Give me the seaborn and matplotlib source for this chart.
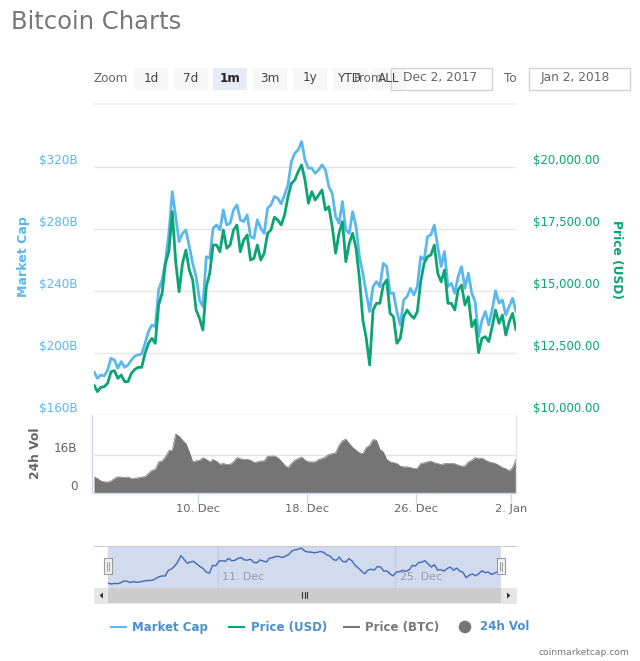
import matplotlib
matplotlib.use("Agg")
import matplotlib.pyplot as plt
from matplotlib.patches import Rectangle, Circle, Polygon
import pandas as pd
import seaborn as sns

market_cap_b = [187.9,183.6,185.8,185.1,189,196.5,195.4,190.1,194.4,190.7,192.2,195.4,198,198.7,199.3,206.2,213.7,218,216.9,240.6,247,258.8,277,303.9,287.8,
271.7,277,279.2,268.5,257.7,249.1,234.1,229.8,262,261,280.3,282.4,279.2,292.1,282.4,283.5,292.1,295.3,285.7,284.6,288.9,274.9,273.8,285.7,280.3,
277,293.2,295.3,300.7,299.6,296,301.8,308.2,323.2,328.6,330.8,336.1,324.3,319,319,315.7,317.9,321.1,317.9,307.1,302.8,287.8,283.5,297.5,279.2,
277,291,281.4,262,251.3,238.4,226.6,242.7,245.9,242.7,257.7,255.6,238.4,238.4,226.6,218,234.1,236.3,241.6,237.3,242.7,262,259.9,274.9,276,
282.4,268.5,255.6,265.3,242.7,244.8,238.4,249.1,255.6,241.6,251.3,238.4,233,210.5,221.2,226.6,218,227.7,240.1,232,234.1,224.4,229.8,235.2,226.6]

price_usd = [11208,10940,11114,11140,11275,11745,11785,11476,11610,11342,11342,11678,11839,11919,11919,12483,12885,13087,12885,14429,14898,16106,16576,18186,16173,
14965,16106,16643,15838,15435,14227,13892,13422,15167,15704,16844,16844,16576,17448,16710,16844,17448,17649,16576,17046,17247,16240,16307,16844,16240,
16509,17314,17448,17958,17851,17649,18052,18790,19327,19461,19797,20065,19461,18522,18991,18656,18857,19059,18253,18388,17582,16509,17314,17784,16173,
16911,17314,16710,15502,13825,13087,12013,14227,14496,14496,15234,15435,14093,13959,12885,13087,13959,14227,14026,13892,14160,15368,16106,16375,16442,
16844,15704,15368,15838,14496,14496,14227,15033,15234,14429,14764,13556,13825,12510,13087,13154,12952,13556,14227,13691,14026,13221,13758,14093,13422]

volume_b = [6.6,5.9,4.9,4.5,4.4,4.8,5.9,6.6,6.5,6.3,6.5,5.8,6.0,6.2,6.5,6.7,8.0,9.4,9.7,12.9,13.3,15.0,17.6,17.8,24.6,
23.7,22.0,20.6,17.1,12.9,13.3,13.6,14.6,14.0,12.9,13.9,13.2,11.9,12.2,11.8,11.9,12.9,14.7,14.2,14.0,14.0,13.6,12.6,12.9,13.3,
13.3,15.3,15.3,15.4,14.6,13.3,11.5,10.5,12.2,13.6,14.3,14.9,13.6,12.9,12.9,12.9,13.9,14.3,15.0,16.0,16.4,16.7,19.9,21.8,22.5,
20.6,19.0,17.8,16.7,16.4,19.0,19.9,22.3,22.0,18.1,17.1,13.9,12.9,12.6,12.2,11.1,10.8,10.8,10.5,10.1,10.2,12.2,12.5,12.9,13.2,
12.5,12.2,11.7,12.2,12.2,12.2,12.1,11.5,11.1,11.2,12.9,13.6,14.7,14.2,14.5,13.6,12.9,12.6,12.2,11.4,10.5,10.0,9.1,10.5,14.0]

start_time = "2017-12-02 08:00"
step = "6h"
main_ticks_b = [160, 200, 240, 280, 320]
main_labels = ["$160B", "$200B", "$240B", "$280B", "$320B"]
price_ticks = [10000, 12500, 15000, 17500, 20000]
price_labels = ["$10,000.00", "$12,500.00", "$15,000.00", "$17,500.00", "$20,000.00"]
vol_ticks = [0, 16]
vol_labels = ["0", "16B"]
date_ticks = ["2017-12-10", "2017-12-18", "2017-12-26", "2018-01-02"]
date_labels = ["10. Dec", "18. Dec", "26. Dec", "2. Jan"]
nav_ticks = ["2017-12-11", "2017-12-25"]
nav_labels = ["11. Dec", "25. Dec"]
range_buttons = ["1d", "7d", "1m", "3m", "1y", "YTD", "ALL"]
legend_names = ["Market Cap", "Price (USD)", "Price (BTC)", "24h Vol"]

BLUE, GREEN, GREY = "#5bb8ef", "#0ba474", "#757575"
W, H = 640, 661

sns.set_theme(style="white")
plt.rcParams["font.family"] = ["DejaVu Sans"]
plt.rcParams["axes.unicode_minus"] = False

fig = plt.figure(figsize=(6.4, 6.61), dpi=100, facecolor="white")

def px_axes(x0, y0, x1, y1, **kw):
    return fig.add_axes([x0 / W, 1 - y1 / H, (x1 - x0) / W, (y1 - y0) / H], **kw)

def pt(px):
    return px * 0.72

dates = pd.date_range(start_time, periods=len(market_cap_b), freq=step)
xlim = (dates[0], dates[-1])

# main price panel
ax = px_axes(94, 135, 516, 415)
ax.set_facecolor("none")
sns.lineplot(x=dates, y=market_cap_b, ax=ax, color=BLUE, lw=2.0, errorbar=None)
ax.set_xlim(xlim)
ax.set_ylim(160, 160 + 280 * 40 / 62.1)
ax.set_yticks(main_ticks_b, main_labels)
ax.set_xticks([])
ax.set_xlabel("")
ax.grid(axis="y", color="#e6e6e6", lw=1.0)
ax.set_axisbelow(True)
ax.tick_params(axis="y", length=0, pad=12, labelsize=pt(12), labelcolor=BLUE)
for s in ax.spines.values():
    s.set_visible(False)
for lab in ax.get_yticklabels():
    lab.set_va("bottom")
ax.set_ylabel("Market Cap", color=BLUE, fontsize=pt(12.6), fontweight="bold")
ax.yaxis.set_label_coords((30 - 94) / 422, (415 - 257) / 280)

axr = ax.twinx()
sns.lineplot(x=dates, y=price_usd, ax=axr, color=GREEN, lw=2.0, errorbar=None)
axr.set_xlim(xlim)
axr.set_ylim(10000, 10000 + 280 * 2500 / 62.1)
axr.set_yticks(price_ticks, price_labels)
axr.set_xticks([])
axr.set_xlabel("")
axr.tick_params(axis="y", length=0, pad=12.4, labelsize=pt(11.6), labelcolor=GREEN)
for s in axr.spines.values():
    s.set_visible(False)
for lab in axr.get_yticklabels():
    lab.set_va("bottom")
axr.set_ylabel("Price (USD)", color=GREEN, fontsize=pt(12.2), fontweight="bold", rotation=270)
axr.yaxis.set_label_coords((623 - 94) / 422, (415 - 259) / 280)

# volume panel
axv = px_axes(94, 415, 516, 492.5)
sns.lineplot(x=dates, y=volume_b, ax=axv, color=GREY, lw=0.5, errorbar=None)
axv.fill_between(dates, volume_b, 0, color=GREY, lw=0)
axv.set_xlim(xlim)
axv.set_ylim(0, 77.5 * 16 / 38)
axv.set_yticks(vol_ticks, vol_labels)
axv.set_xticks(pd.to_datetime(date_ticks), date_labels)
axv.set_xlabel("")
axv.grid(axis="y", color="#e6e6e6", lw=1.0)
axv.set_axisbelow(True)
axv.tick_params(axis="y", length=0, pad=12, labelsize=pt(12), labelcolor="#666666")
axv.tick_params(axis="x", length=7, width=1, color="#ccd6eb", pad=1.5, labelsize=pt(11.5), labelcolor="#666666", bottom=True)
for k, s in axv.spines.items():
    s.set_visible(k == "bottom")
axv.spines["bottom"].set_color("#ccd6eb")
axv.spines["bottom"].set_linewidth(1)
for lab in axv.get_yticklabels():
    lab.set_va("bottom")
axv.set_ylabel("24h Vol", color="#666666", fontsize=pt(12.2), fontweight="bold")
axv.yaxis.set_label_coords((42 - 94) / 422, (492.5 - 453) / 77.5)

# navigator
axn = px_axes(108, 546, 501, 588)
axn.set_facecolor("#d2daed")
sns.lineplot(x=dates, y=market_cap_b, ax=axn, color="#3f69b8", lw=1.0, errorbar=None)
axn.set_xlim(xlim)
axn.set_ylim(166.7, 344.6)
axn.set_yticks([])
axn.set_ylabel("")
axn.set_xlabel("")
axn.set_xticks(pd.to_datetime(nav_ticks), [""] * len(nav_ticks))
axn.grid(axis="x", color="#c3cde3", lw=1)
axn.set_axisbelow(True)
axn.tick_params(axis="x", length=0)
for s in axn.spines.values():
    s.set_visible(False)
for d, lab in zip(pd.to_datetime(nav_ticks), nav_labels):
    axn.annotate(lab, xy=(d, 0), xycoords=("data", "axes fraction"), xytext=(3, 4), textcoords="offset points",
                 fontsize=pt(11), color="#949aa8", va="bottom", ha="left")

# page furniture in pixel coordinates
ov = fig.add_axes([0, 0, 1, 1], zorder=5)
ov.set_xlim(0, W)
ov.set_ylim(H, 0)
ov.axis("off")
ov.patch.set_visible(False)

ov.text(11, 22, "Bitcoin Charts", fontsize=pt(24.3), color="#777777", va="center", ha="left")
ov.text(94, 78.5, "Zoom", fontsize=pt(12), color="#666666", va="center")
ov.plot([94, 516], [103.5, 103.5], color="#eeeeee", lw=1.2)

btn_x = [134, 174, 213, 253, 293, 333, 372]
for x, lab in zip(btn_x, range_buttons):
    on = lab == "1m"
    ov.add_patch(Rectangle((x, 67.5), 33.5, 22.5, fc="#e6ebf5" if on else "#f7f7f7", ec="none"))
    ov.text(x + 17, 78, lab, fontsize=pt(12), color="#222222" if on else "#444444",
            fontweight="bold" if on else "normal", ha="center", va="center")
ov.text(354, 78, "From", fontsize=pt(12), color="#666666", va="center")
ov.text(504, 78, "To", fontsize=pt(12), color="#666666", va="center")
for x0, lab in [(391, "Dec 2, 2017"), (529, "Jan 2, 2018")]:
    ov.add_patch(Rectangle((x0, 67.5), 101, 22.5, fc="none", ec="#d4d4d4", lw=1))
    ov.text(x0 + 12, 78, lab, fontsize=pt(12.3), color="#666666", va="center")

# axis edges of the volume panel
ov.plot([91.5, 91.5], [415, 493], color="#ccd6eb", lw=1)
ov.plot([516, 516], [415, 492], color="#e6e6e6", lw=1)

# navigator chrome
ov.plot([94, 516], [545.5, 545.5], color="#cccccc", lw=0.8)
ov.add_patch(Rectangle((94, 588), 422, 15, fc="#f2f2f2", ec="#e6e6e6", lw=0.6))
ov.add_patch(Rectangle((108, 588), 393, 15, fc="#cccccc", ec="none"))
ov.add_patch(Rectangle((94, 588), 14, 15, fc="#e6e6e6", ec="none"))
ov.add_patch(Rectangle((501, 588), 15, 15, fc="#e6e6e6", ec="none"))
ov.add_patch(Polygon([(103, 592.5), (103, 598.5), (99.5, 595.5)], fc="#333333", ec="none"))
ov.add_patch(Polygon([(507, 592.5), (507, 598.5), (510.5, 595.5)], fc="#333333", ec="none"))
for dx in (-2.5, 0, 2.5):
    ov.plot([304.5 + dx] * 2, [592, 598], color="#333333", lw=0.8)
for x in (108, 501):
    ov.add_patch(Rectangle((x - 4, 558), 8, 16, fc="#f2f2f2", ec="#999999", lw=0.8))
    for dx in (-1.2, 1.2):
        ov.plot([x + dx] * 2, [561.5, 570.5], color="#999999", lw=0.7)

# legend
leg_y = 627
items = [(110, 132, BLUE, "#4a8fd0"), (228, 251, GREEN, "#4a8fd0"), (343, 365, "#777777", "#777777")]
for (x0, tx, c, tc), name in zip(items, legend_names):
    ov.plot([x0, x0 + 17], [leg_y, leg_y], color=c, lw=1.5, solid_capstyle="butt")
    ov.text(tx, leg_y, name, fontsize=pt(11.7), fontweight="bold", color=tc, va="center", ha="left")
ov.add_patch(Circle((465, leg_y), 6.3, fc="#757575", ec="none"))
ov.text(480, leg_y, legend_names[3], fontsize=pt(11.7), fontweight="bold", color="#4a8fd0", va="center", ha="left")
ov.text(629, 652.5, "coinmarketcap.com", fontsize=pt(9.2), color="#777777", va="center", ha="right")

fig.savefig("out.png", dpi=100, facecolor="white")
